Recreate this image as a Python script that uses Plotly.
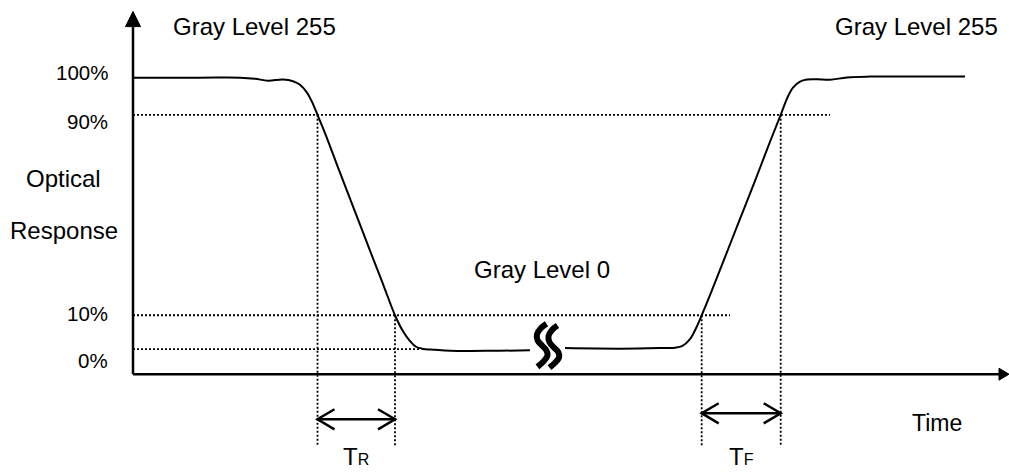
import plotly.graph_objects as go

# ---------------- data (time in arbitrary units, response on drawing scale) -------------
# falling edge: gray 255 -> gray 0
fall_time = [0, 6.7, 10.7, 12.2, 13.5, 15.0, 16.0, 16.7, 17.4, 17.9, 18.45, 19.2, 20.7, 22.2,
             23.7, 25.0, 26.2, 27.0, 27.7, 28.3, 28.9, 30.2, 31.7, 35.7, 39.7]
fall_resp = [100, 100, 100, 99.6, 98.9, 99.3, 98.7, 97.4, 94.5, 91.1, 86.3, 79.6, 65.0, 50.7,
             36.3, 24.0, 12.5, 6.6, 3.0, 0.9, 0.2, -0.2, -0.55, -0.6, -0.4]
# rising edge: gray 0 -> gray 255
rise_time = [43.2, 48.7, 52.7, 54.2, 54.9, 55.7, 56.3, 56.87, 57.7, 59.2, 60.7, 62.2, 63.7,
             64.77, 65.4, 66.0, 66.7, 67.4, 68.4, 69.7, 71.4, 73.7, 78.7, 83.2]
rise_resp = [0.4, 0.2, 0.4, 0.55, 1.1, 3.7, 7.7, 12.5, 19.9, 33.9, 48.0, 62.0, 76.4,
             86.3, 92.3, 96.3, 98.5, 99.3, 99.4, 99.2, 100.1, 100.4, 100.4, 100.4]

# time-axis break mark (two S strokes)
brk1_time = [41.35, 40.8, 40.4, 40.45, 40.9, 41.35, 41.45, 41.1, 40.45]
brk1_resp = [9.4, 7.8, 5.5, 3.3, 1.4, -0.5, -2.3, -4.3, -6.5]
brk2_time = [42.45, 41.9, 41.55, 41.65, 42.1, 42.55, 42.6, 42.2, 41.65]
brk2_resp = [8.7, 7.1, 4.8, 2.6, 0.6, -1.2, -3.1, -5.0, -6.8]

# reference levels (drawn positions) and their labels
level_labels = ["100%", "90%", "10%", "0%"]
level_pos = [100, 86.3, 12.5, 0]
# extent of the dotted level guides
guide_end_time = [None, 69.7, 59.7, 28.8]

# crossing times of the 90% / 10% levels
t90_fall, t10_fall = 18.45, 26.2
t10_rise, t90_rise = 56.87, 64.77

# ---------------- layout helpers (scales) ----------------
X_MIN, X_MAX = -13.3, 87.6
Y_MIN, Y_MAX = -45.22, 128.6
AXIS_Y = -9.2          # where the time axis sits
AXIS_TOP = 124.4       # top tip of the response axis
GUIDE_BOTTOM = -35.8   # bottom of the vertical dotted guides
TR_Y, TF_Y = -25.8, -23.6

BLACK = "#000000"
FONT = "Liberation Sans, Arial, sans-serif"
DOT = "2px,2px"

fig = go.Figure()

def line(x, y, width=2, dash=None, shape="linear"):
    fig.add_trace(go.Scatter(x=x, y=y, mode="lines",
                             line=dict(color=BLACK, width=width, dash=dash, shape=shape),
                             hoverinfo="skip", showlegend=False))

# dotted horizontal level guides
for pos, end in zip(level_pos, guide_end_time):
    if end is not None:
        line([0, end], [pos, pos], width=1.8, dash=DOT)

# dotted vertical guides
line([t90_fall, t90_fall], [level_pos[1], GUIDE_BOTTOM], width=1.8, dash=DOT)
line([t10_fall, t10_fall], [level_pos[2], GUIDE_BOTTOM], width=1.8, dash=DOT)
line([t10_rise, t10_rise], [level_pos[2], GUIDE_BOTTOM], width=1.8, dash=DOT)
line([t90_rise, t90_rise], [level_pos[1], GUIDE_BOTTOM], width=1.8, dash=DOT)

# optical response curve
line(fall_time, fall_resp, width=2, shape="spline")
line(rise_time, rise_resp, width=2, shape="spline")

# break mark
line(brk1_time, brk1_resp, width=6, shape="spline")
line(brk2_time, brk2_resp, width=6, shape="spline")

# axes
line([0, 0], [AXIS_Y, AXIS_TOP - 4], width=2.5)
line([0, X_MAX - 0.9], [AXIS_Y, AXIS_Y], width=2.5)
# arrow heads (filled triangles)
fig.add_trace(go.Scatter(x=[-0.75, 0.75, 0, -0.75], y=[AXIS_TOP - 5.6, AXIS_TOP - 5.6, AXIS_TOP, AXIS_TOP - 5.6],
                         mode="lines", fill="toself", fillcolor=BLACK,
                         line=dict(color=BLACK, width=1), hoverinfo="skip", showlegend=False))
fig.add_trace(go.Scatter(x=[X_MAX - 1.0, X_MAX - 1.0, X_MAX, X_MAX - 1.0],
                         y=[AXIS_Y + 2.2, AXIS_Y - 2.2, AXIS_Y, AXIS_Y + 2.2],
                         mode="lines", fill="toself", fillcolor=BLACK,
                         line=dict(color=BLACK, width=1), hoverinfo="skip", showlegend=False))

# double-headed open arrows for TR / TF
def double_arrow(t0, t1, y, dx=1.7, dy=3.7):
    line([t0, t1], [y, y], width=2.5)
    line([t0 + dx, t0, t0 + dx], [y + dy, y, y - dy], width=2.5)
    line([t1 - dx, t1, t1 - dx], [y + dy, y, y - dy], width=2.5)

double_arrow(t90_fall, t10_fall, TR_Y)
double_arrow(t10_rise, t90_rise, TF_Y)

# ---------------- text ----------------
def text(x, y, s, size=24, xanchor="center"):
    fig.add_annotation(x=x, y=y, text=s, showarrow=False, xanchor=xanchor, yanchor="middle",
                       font=dict(family=FONT, size=size, color=BLACK))

text(12.1, 118.8, "Gray Level 255")
text(78.3, 118.8, "Gray Level 255")
text(40.9, 29.2, "Gray Level 0")
text(-6.95, 62.7, "Optical")
text(-6.95, 43.9, "Response")
text(80.4, -27.3, "Time", size=23)
text((t90_fall + t10_fall) / 2, -39.6, "T<span style='font-size:16px'>R</span>", size=24)
text((t10_rise + t90_rise) / 2, -39.6, "T<span style='font-size:16px'>F</span>", size=24)

label_y = [101.8, 83.8, 13.2, -4.1]
for lab, ly in zip(level_labels, label_y):
    text(-2.3, ly, lab, size=20.5, xanchor="right")

fig.update_layout(
    width=1009, height=472,
    margin=dict(l=0, r=0, t=0, b=0),
    paper_bgcolor="white", plot_bgcolor="white",
    showlegend=False,
    xaxis=dict(range=[X_MIN, X_MAX], visible=False, fixedrange=True),
    yaxis=dict(range=[Y_MIN, Y_MAX], visible=False, fixedrange=True),
)

fig.write_html("out.html", config={"displayModeBar": False},
               post_script="document.body.style.margin='0';document.body.style.overflow='hidden';")
